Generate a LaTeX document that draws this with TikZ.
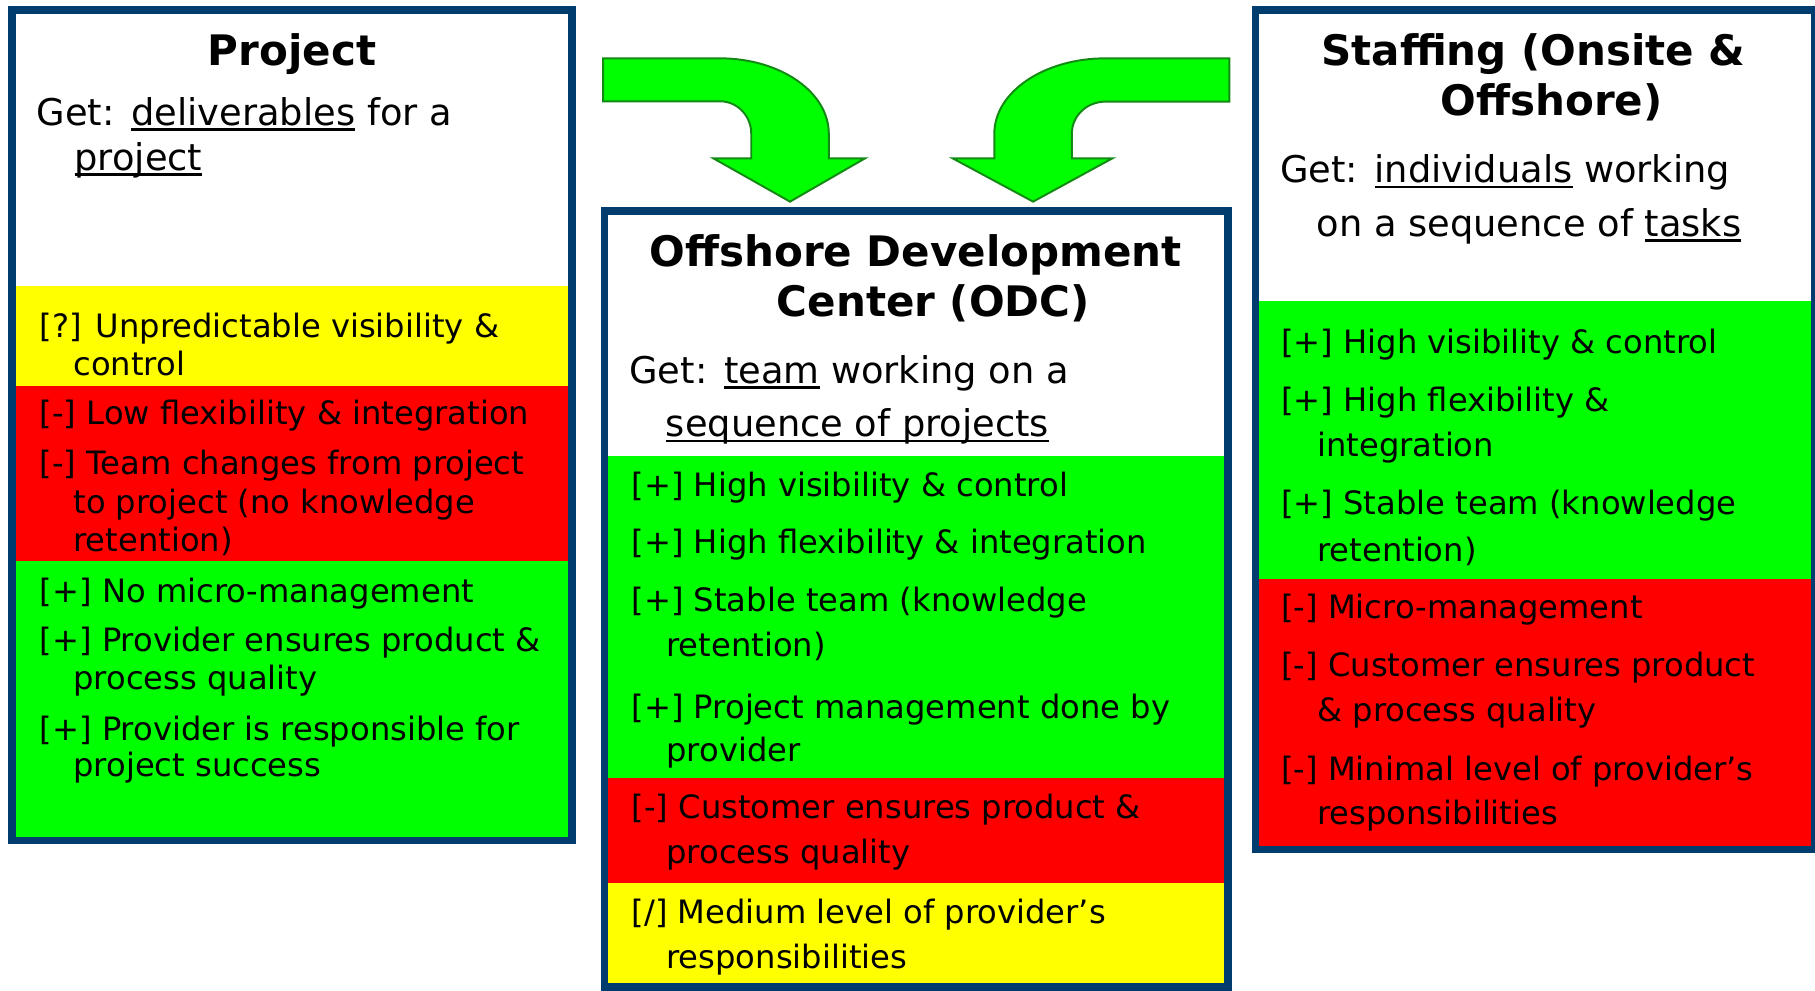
\documentclass[tikz,border=0pt]{standalone}
\usepackage{fontspec}
\setmainfont{DejaVu Sans}
\definecolor{navy}{HTML}{003C6E}
\definecolor{cgreen}{HTML}{00FF00}
\definecolor{cred}{HTML}{FF0000}
\definecolor{cyellow}{HTML}{FFFF00}
\definecolor{arrowline}{HTML}{138A13}
\newcommand\bodyfnt{\fontsize{13.9}{16}\selectfont}
\newcommand\getfnt{\fontsize{15.9}{18}\selectfont}
\newcommand\titlefnt{\fontsize{18.15}{22}\selectfont\bfseries}
\newsavebox\ulbox
\newcommand\ulx[1]{\sbox\ulbox{#1}\rlap{\rule[-0.15em]{\wd\ulbox}{0.07em}}\usebox\ulbox}
\tikzset{
  body/.style={anchor=base west, inner sep=0pt, font=\bodyfnt},
  getline/.style={anchor=base west, inner sep=0pt, font=\getfnt},
  ttl/.style={anchor=base, inner sep=0pt, font=\titlefnt},
  frame/.style={draw=navy, line width=3.35pt},
  bigarrow/.style={fill=cgreen, draw=arrowline, line width=0.85pt, line join=miter},
}
\begin{document}
\begin{tikzpicture}[x=0.5pt, y=-0.5pt]
\useasboundingbox (0,0) rectangle (1568,856.1);

% ---------- Project box ----------
\fill[white]   (10.25,8.35) rectangle (494.35,247);
\fill[cyellow] (10.25,247) rectangle (494.35,333.5);
\fill[cred]    (10.25,333.5) rectangle (494.35,484.7);
\fill[cgreen]  (10.25,484.7) rectangle (494.35,726.15);
\draw[frame] (10.25,8.35) rectangle (494.35,726.15);

\node[ttl]  (pt)  at (252.3,57) {Project};
\node[getline] (pg1) at (31.4,108) {Get:\hspace{0.45em}\ulx{deliverables} for a};
\node[getline] (pg2) at (64,146.9) {\ulx{project}};
\node[body] (p1a) at (34,291.4) {[?] Unpredictable visibility \&};
\node[body] (p1b) at (63,324) {control};
\node[body] (p2a) at (34,367) {[-] Low flexibility \& integration};
\node[body] (p3a) at (34,409.5) {[-] Team changes from project};
\node[body] (p3b) at (63,443.5) {to project (no knowledge};
\node[body] (p3c) at (63,476.6) {retention)};
\node[body] (p4a) at (34,520.7) {[+] No micro-management};
\node[body] (p5a) at (34,563) {[+] Provider ensures product \&};
\node[body] (p5b) at (63,595.5) {process quality};
\node[body] (p6a) at (34,639.3) {[+] Provider is responsible for};
\node[body] (p6b) at (63,671) {project success};

% ---------- ODC box ----------
\fill[white]   (522.3,182) rectangle (1060.7,394);
\fill[cgreen]  (522.3,394) rectangle (1060.7,672.4);
\fill[cred]    (522.3,672.4) rectangle (1060.7,762.6);
\fill[cyellow] (522.3,762.6) rectangle (1060.7,852.6);
\draw[frame] (522.3,182) rectangle (1060.7,852.6);

\node[ttl]  (ot1) at (791,230.4) {Offshore Development};
\node[ttl]  (ot2) at (806.3,273) {Center (ODC)};
\node[getline] (og1) at (543.4,331) {Get:\hspace{0.45em}\ulx{team} working on a};
\node[getline] (og2) at (574.9,377.3) {\ulx{sequence of projects}};
\node[body] (o1a) at (545.3,429) {[+] High visibility \& control};
\node[body] (o2a) at (545.3,478.6) {[+] High flexibility \& integration};
\node[body] (o3a) at (545.3,528.4) {[+] Stable team (knowledge};
\node[body] (o3b) at (575.3,567.3) {retention)};
\node[body] (o4a) at (545.3,620.6) {[+] Project management done by};
\node[body] (o4b) at (575.3,658) {provider};
\node[body] (o5a) at (545.3,707) {[-] Customer ensures product \&};
\node[body] (o5b) at (575.3,745.8) {process quality};
\node[body] (o6a) at (545.3,797.7) {[/] Medium level of provider’s};
\node[body] (o6b) at (575.3,836.6) {responsibilities};

% ---------- Staffing box ----------
\fill[white]   (1084.6,8.35) rectangle (1567.9,260);
\fill[cgreen]  (1084.6,260) rectangle (1567.9,500.5);
\fill[cred]    (1084.6,500.5) rectangle (1567.9,733.8);
\draw[frame] (1084.6,8.35) rectangle (1567.9,733.8);

\node[ttl]  (st1) at (1324.8,56.2) {Staffing (Onsite \&};
\node[ttl]  (st2) at (1340.5,99.4) {Offshore)};
\node[getline] (sg1) at (1105.5,157.8) {Get:\hspace{0.45em}\ulx{individuals} working};
\node[getline] (sg2) at (1137,203.9) {on a sequence of \ulx{tasks}};
\node[body] (s1a) at (1106.5,305.8) {[+] High visibility \& control};
\node[body] (s2a) at (1106.5,355.7) {[+] High flexibility \&};
\node[body] (s2b) at (1137.6,394.5) {integration};
\node[body] (s3a) at (1106.5,444.9) {[+] Stable team (knowledge};
\node[body] (s3b) at (1137.6,484.7) {retention)};
\node[body] (s4a) at (1106.5,534.2) {[-] Micro-management};
\node[body] (s5a) at (1106.5,584.6) {[-] Customer ensures product};
\node[body] (s5b) at (1137.6,623.5) {\& process quality};
\node[body] (s6a) at (1106.5,673.9) {[-] Minimal level of provider’s};
\node[body] (s6b) at (1137.6,712.7) {responsibilities};

% ---------- Bent arrows ----------
\draw[bigarrow] (521,50.4) -- (622,50.4)
  .. controls (673.9,50.4) and (716,79.5) .. (716,115.4)
  -- (716,136.8) -- (747.3,136.8) -- (682.5,174.2) -- (616.3,136.8)
  -- (649,136.8) -- (649,115.4)
  .. controls (649,100) and (636.9,87.5) .. (622,87.5)
  -- (521,87.5) -- cycle;
\draw[bigarrow] (1062,50.4) -- (955,50.4)
  .. controls (902,50.4) and (859,79.5) .. (859,115.4)
  -- (859,136.8) -- (823,136.8) -- (892.5,174.2) -- (961,136.8)
  -- (926,136.8) -- (926,115.4)
  .. controls (926,100) and (939,87.8) .. (955,87.8)
  -- (1062,87.8) -- cycle;
\end{tikzpicture}
\end{document}
